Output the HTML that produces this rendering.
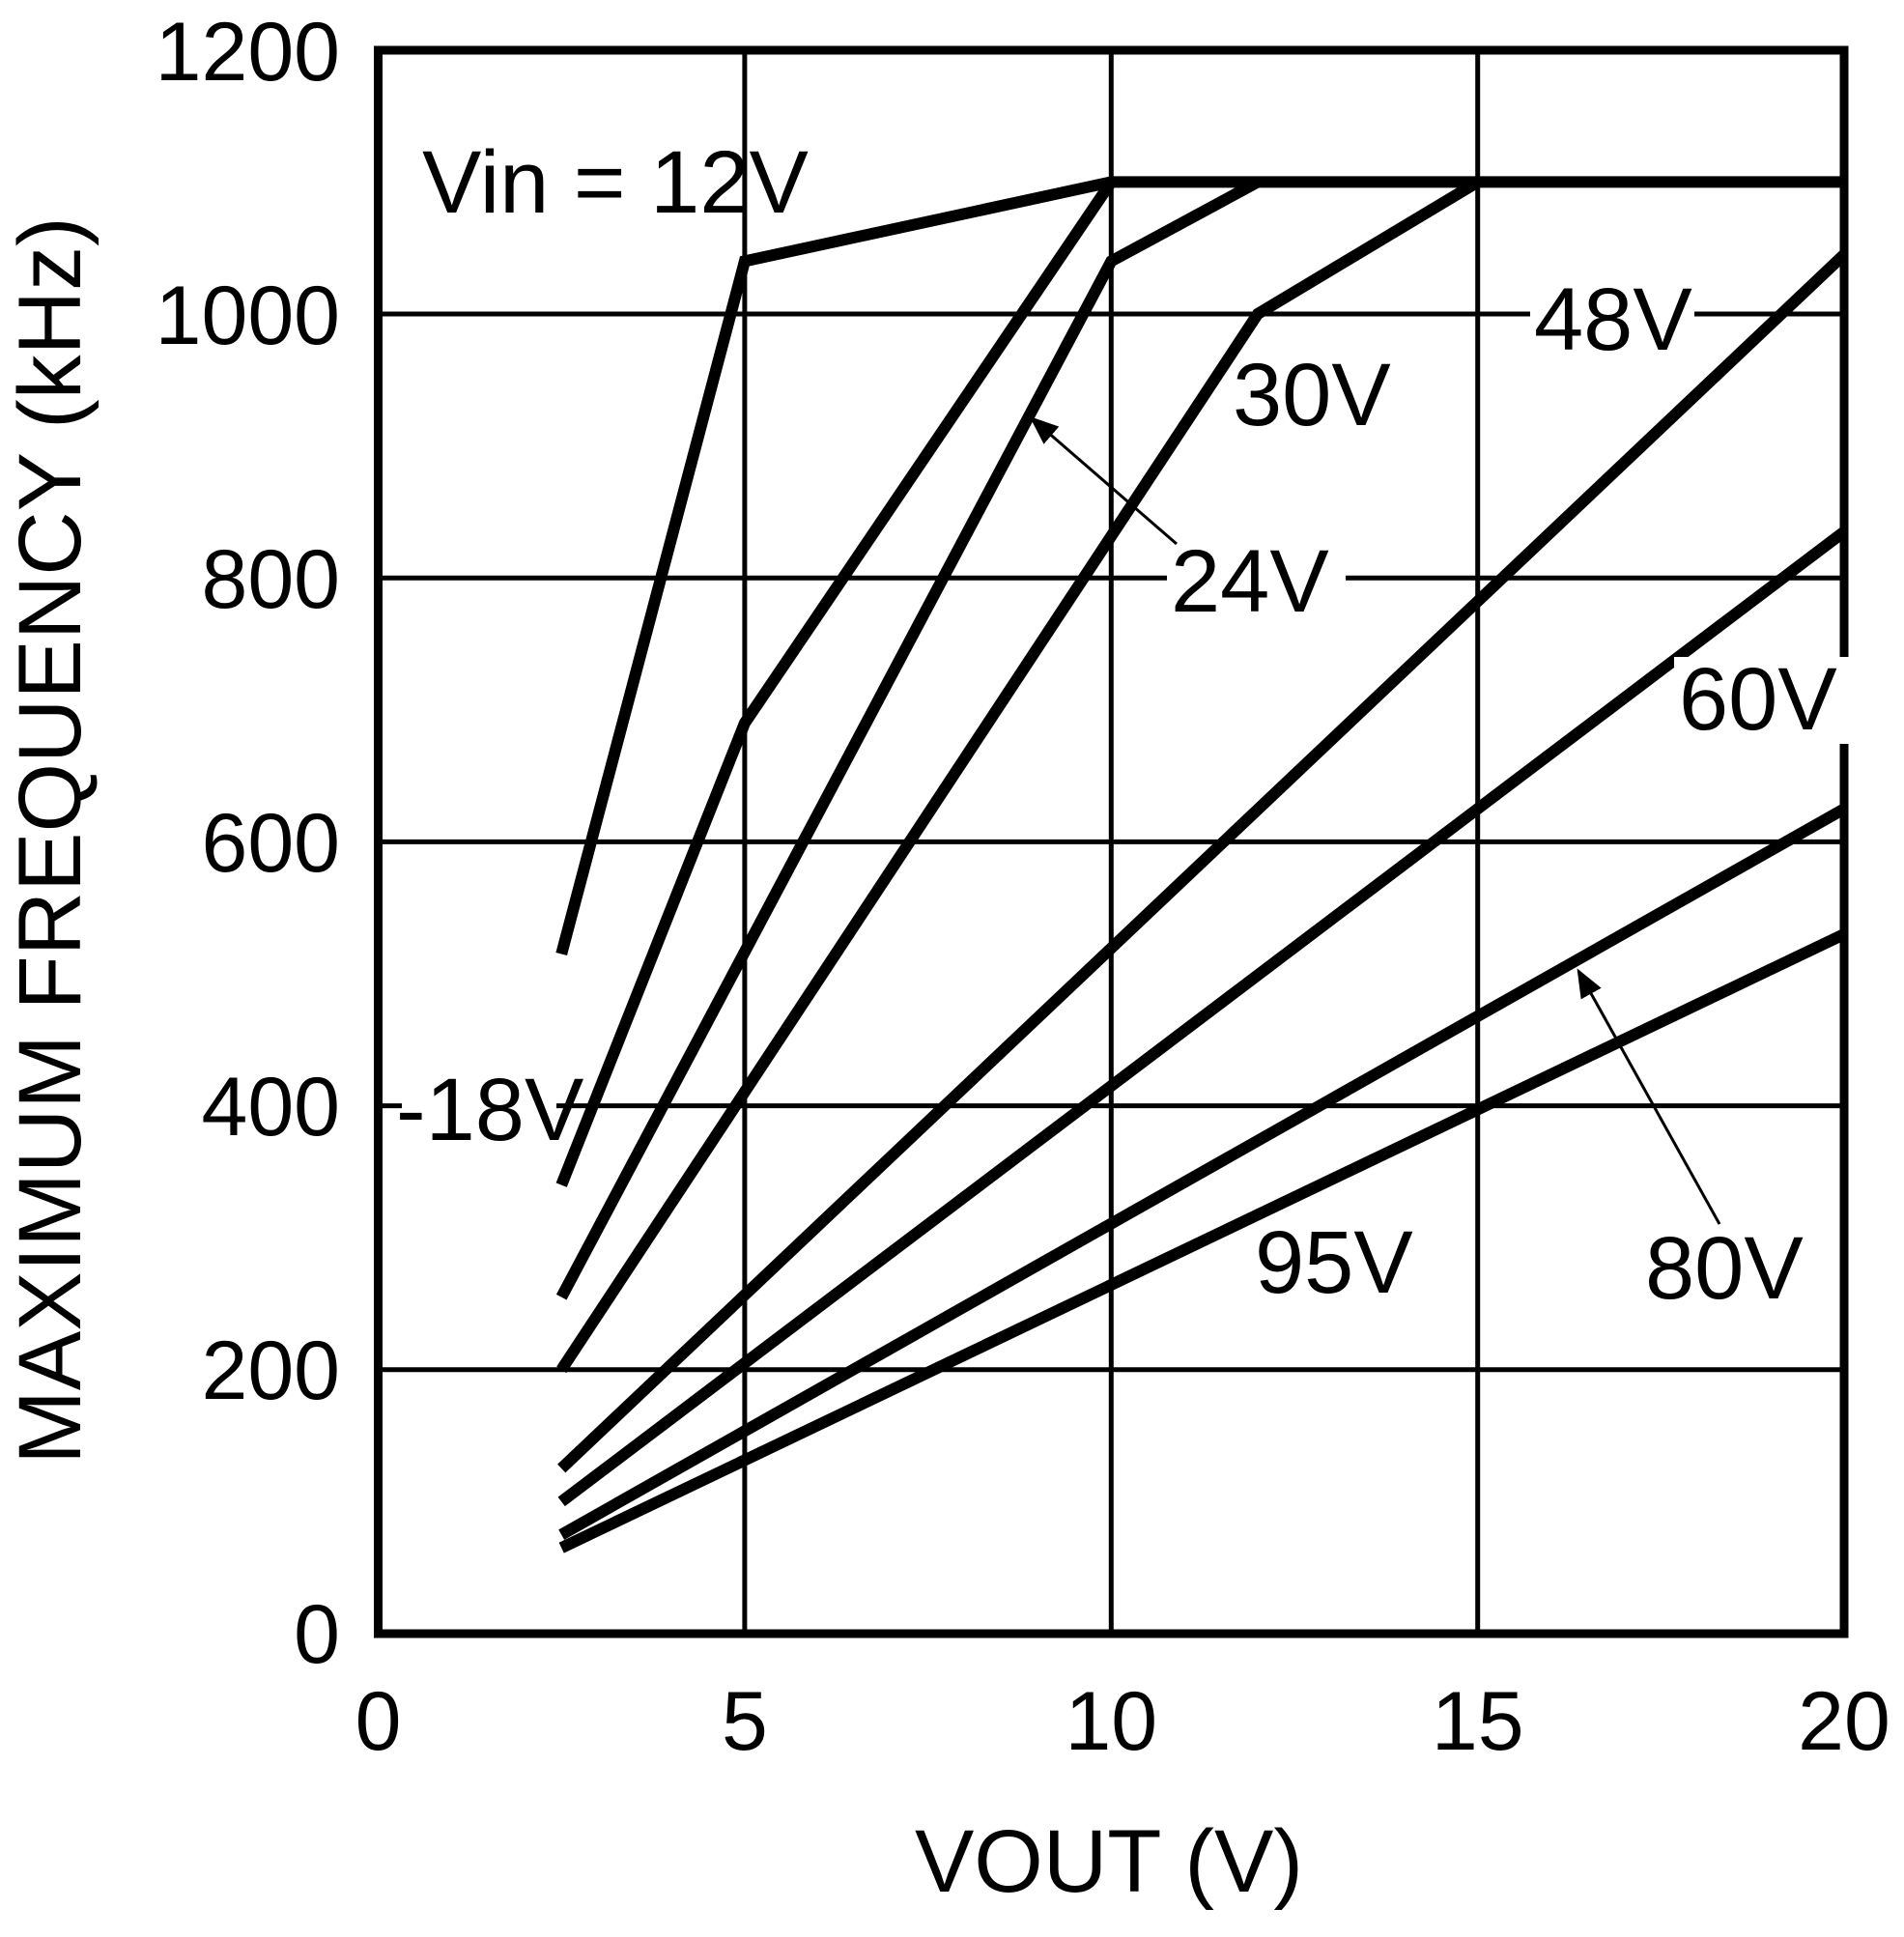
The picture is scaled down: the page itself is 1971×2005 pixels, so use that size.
<!DOCTYPE html>
<html><head><style>html,body{margin:0;padding:0;background:#fff}</style></head>
<body>
<svg width="1971" height="2000" viewBox="0 0 1971 2000" xmlns="http://www.w3.org/2000/svg" font-family="Liberation Sans, Arial, sans-serif">
<defs><marker id="ah" markerWidth="10" markerHeight="8" refX="9" refY="4" orient="auto" markerUnits="strokeWidth"><path d="M0,0 L10,4 L0,8 z" fill="#000"/></marker></defs>
<g stroke="#000" stroke-width="5">
<line x1="391.5" y1="325" x2="1909" y2="325"/>
<line x1="391.5" y1="598.2" x2="1909" y2="598.2"/>
<line x1="391.5" y1="871.4" x2="1909" y2="871.4"/>
<line x1="391.5" y1="1144.6" x2="1909" y2="1144.6"/>
<line x1="391.5" y1="1417.8" x2="1909" y2="1417.8"/>
<line x1="770.9" y1="52" x2="770.9" y2="1691"/>
<line x1="1150.3" y1="52" x2="1150.3" y2="1691"/>
<line x1="1529.7" y1="52" x2="1529.7" y2="1691"/>
</g>
<rect x="391.5" y="52" width="1517.5" height="1639" fill="none" stroke="#000" stroke-width="9"/>
<g fill="none" stroke="#000" stroke-width="12" stroke-linejoin="miter">
<polyline points="581.2,987.5 770.9,270.4 1150.3,188.4 1909,188.4"/>
<polyline points="581.2,1226.6 770.9,748.5 1150.3,188.4"/>
<polyline points="581.2,1342.7 1150.3,270.4 1302,188.4"/>
<polyline points="581.2,1417.8 1302,325 1529.7,188.4"/>
<polyline points="581.2,1520 1909,263.5"/>
<polyline points="581.2,1554.4 1909,550.4"/>
<polyline points="581.2,1588.6 1909,837.3"/>
<polyline points="581.2,1602.2 1909,967"/>
</g>
<g fill="#fff">
<rect x="1584" y="300" width="170" height="75"/>
<rect x="1208" y="565" width="185" height="75"/>
<rect x="1733" y="680" width="185" height="90"/>
<rect x="416" y="1110" width="160" height="80"/>
</g>
<g stroke="#000" stroke-width="3" fill="none">
<line x1="1218" y1="563" x2="1068" y2="433" marker-end="url(#ah)"/>
<line x1="1780" y1="1267" x2="1634" y2="1005" marker-end="url(#ah)"/>
</g>
<g font-size="92" fill="#000">
<text x="437" y="220">Vin = 12V</text>
<text x="1276" y="440">30V</text>
<text x="1212" y="633">24V</text>
<text x="1588" y="362">48V</text>
<text x="1738" y="755">60V</text>
<text x="410" y="1180">-18V</text>
<text x="1299" y="1338">95V</text>
<text x="1703" y="1344">80V</text>
</g>
<g font-size="86" fill="#000" text-anchor="end">
<text x="352" y="83">1200</text>
<text x="352" y="356">1000</text>
<text x="352" y="629">800</text>
<text x="352" y="902">600</text>
<text x="352" y="1175">400</text>
<text x="352" y="1448">200</text>
<text x="352" y="1721">0</text>
</g>
<g font-size="86" fill="#000" text-anchor="middle">
<text x="391.5" y="1811">0</text>
<text x="770.9" y="1811">5</text>
<text x="1150.3" y="1811">10</text>
<text x="1529.7" y="1811">15</text>
<text x="1909" y="1811">20</text>
</g>
<text x="1148" y="1958" font-size="92" text-anchor="middle">VOUT (V)</text>
<text transform="translate(83,870) rotate(-90)" font-size="92" text-anchor="middle">MAXIMUM FREQUENCY (kHz)</text>
</svg>
</body></html>
